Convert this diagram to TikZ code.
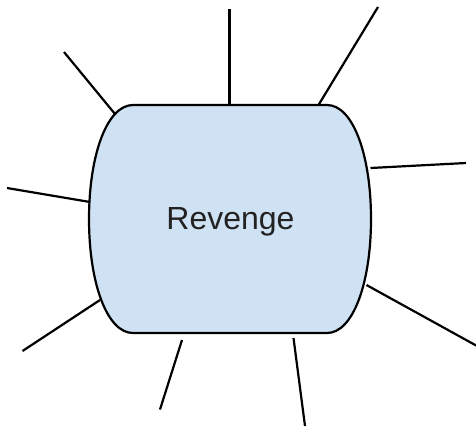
\documentclass[tikz,border=0pt]{standalone}
\usepackage{fontspec}
\setmainfont{Liberation Sans}
\begin{document}
\begin{tikzpicture}[x=1pt,y=-1pt,
  spoke/.style={draw=black,line width=2.2pt},
  blob/.style={draw=black,line width=2.2pt,fill=blobfill,line join=round},
  label/.style={text=labeltext,font=\fontsize{32}{38}\selectfont,inner sep=0pt}]
\definecolor{blobfill}{HTML}{CFE2F3}
\definecolor{labeltext}{HTML}{222222}
\useasboundingbox (0,0) rectangle (476,426);
% shape
\draw[blob] (133,105) -- (327,105)
  .. controls (353,105) and (371,155) .. (371,219)
  .. controls (371,283) and (353,333) .. (327,333)
  -- (133,333)
  .. controls (107,333) and (89,283) .. (89,219)
  .. controls (89,155) and (107,105) .. (133,105) -- cycle;
\node[label] (rev) at (230.5,222) {Revenge};
% spoke ends
\coordinate (a1) at (115,114); \coordinate (b1) at (64,52);
\coordinate (a2) at (229.5,105); \coordinate (b2) at (229.5,9);
\coordinate (a3) at (318.5,105); \coordinate (b3) at (378,7);
\coordinate (a4) at (370.5,168); \coordinate (b4) at (466,163);
\coordinate (a5) at (366.5,285); \coordinate (b5) at (477,346);
\coordinate (a6) at (293.5,338); \coordinate (b6) at (305,426);
\coordinate (a7) at (182,340); \coordinate (b7) at (160,409.5);
\coordinate (a8) at (100,300); \coordinate (b8) at (22.5,351);
\coordinate (a9) at (90,202); \coordinate (b9) at (7,188);
\foreach \i in {1,...,9} {\draw[spoke] (a\i) -- (b\i);}
\end{tikzpicture}
\end{document}
